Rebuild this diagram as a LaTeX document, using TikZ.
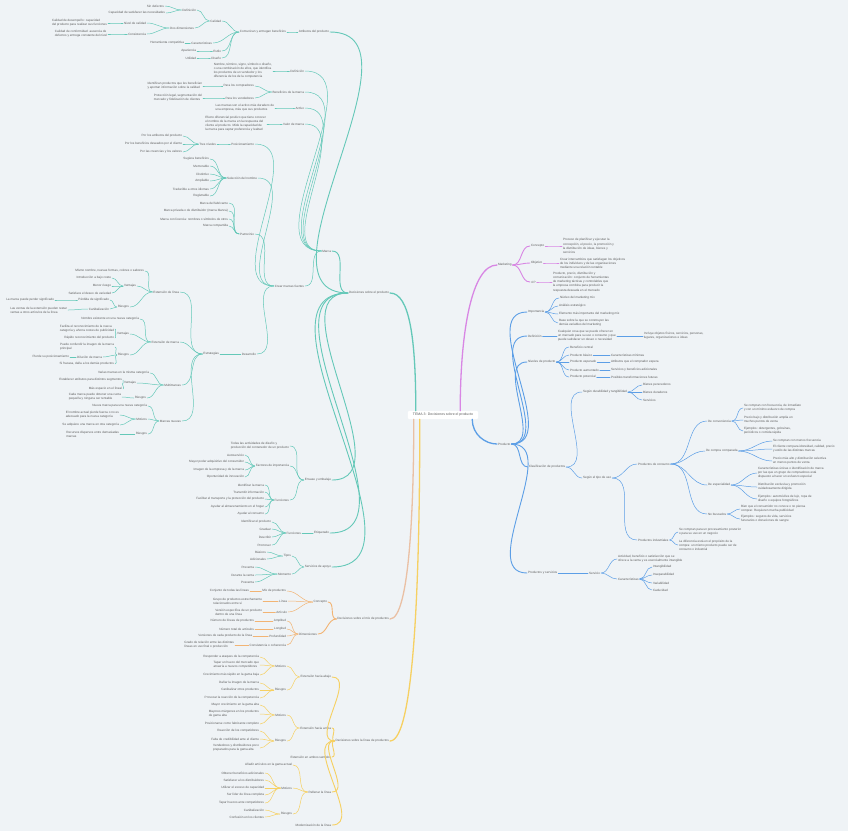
\documentclass[tikz,border=0pt]{standalone}
\usepackage{fontspec}
\setmainfont{Liberation Sans}
\definecolor{bg}{RGB}{239,243,246}
\definecolor{txt}{RGB}{92,92,92}
\definecolor{cteal}{RGB}{100,200,184}
\definecolor{corange}{RGB}{242,180,116}
\definecolor{cpeach}{RGB}{234,192,164}
\definecolor{cyellow}{RGB}{246,208,98}
\definecolor{cpurple}{RGB}{216,134,228}
\definecolor{cblue}{RGB}{92,158,230}
\newcommand\fsz{\fontsize{3.1}{4.1}\selectfont}
\tikzset{
 tx/.style={font=\fsz, text=txt, inner sep=0.8pt},
 L/.style={tx, anchor=east},
 R/.style={tx, anchor=west},
 D/.style={align=left},
 w1/.style={line width=1.3pt, line cap=round},
 w2/.style={line width=0.9pt, line cap=round},
 w3/.style={line width=0.5pt, line cap=round},
}
\begin{document}
\begin{tikzpicture}[x=1pt,y=-1pt]
\fill[bg] (0,0) rectangle (848,831);
\useasboundingbox (0,0) rectangle (848,831);

% ---------------- center
\node[fill=white, rounded corners=1pt, text=txt, font=\fontsize{3.5}{4}\selectfont, inner xsep=5pt, inner ysep=2.5pt] (ctr) at (443,415) {TEMA 3: Decisiones sobre el producto};

% ---------------- level 1
\node[L] (d1) at (390,293) {Decisiones sobre el producto};
\node[L] (d2) at (390,619) {Decisiones sobre el mix de productos};
\node[L] (d3) at (390,741) {Decisiones sobre la línea de productos};
\node[R] (mk) at (497,265) {Marketing};
\node[R] (pr) at (497,444) {Producto};

% ---------------- teal: atributos
\node[L] (atr) at (330,32) {Atributos del producto};
\node[L] (atv) at (287,32) {Comunican y entregan beneficios};
\node[L] (cal) at (222,21) {Calidad};
\node[L] (cdef) at (197,10) {Definición};
\node[L] (cd1) at (165,6) {Sin defectos};
\node[L] (cd2) at (166,13) {Capacidad de satisfacer las necesidades};
\node[L] (cdim) at (195,28) {Dos dimensiones};
\node[L] (cn) at (147,23) {Nivel de calidad};
\node[L,D] (cnd) at (108,23) {Calidad de desempeño: capacidad\\ del producto para realizar sus funciones};
\node[L] (cc) at (147,34) {Consistencia};
\node[L,D] (ccd) at (108,34) {Calidad de conformidad: ausencia de\\ defectos y entrega constante del nivel};
\node[L] (car) at (213,43) {Características};
\node[L] (card) at (185,43) {Herramienta competitiva};
\node[L] (est) at (222,51) {Estilo};
\node[L] (estd) at (197,51) {Apariencia};
\node[L] (dis) at (222,58) {Diseño};
\node[L] (disd) at (197,58) {Utilidad};

% ---------------- teal: marca
\node[L] (ma) at (332,251) {Marca};
\node[L] (mdef) at (305,71) {Definición};
\node[L,D] (mdefd) at (273,71) {Nombre, término, signo, símbolo o diseño,\\ o una combinación de ellos, que identifica\\ los productos de un vendedor y los\\ diferencia de los de la competencia};
\node[L] (mben) at (305,92) {Beneficios de la marca};
\node[L] (mb1) at (255,86) {Para los compradores};
\node[L,D] (mb1d) at (203,86) {Identifican productos que les benefician\\ y aportan información sobre la calidad};
\node[L] (mb2) at (255,98) {Para los vendedores};
\node[L,D] (mb2d) at (203,98) {Protección legal, segmentación del\\ mercado y fidelización de clientes};
\node[L] (mact) at (305,108) {Activo};
\node[L,D] (mactd) at (275,108) {Las marcas son el activo más duradero de\\ una empresa, más que sus productos};
\node[L] (mcap) at (305,124) {Valor de marca};
\node[L,D] (mcapd) at (267,124) {Efecto diferencial positivo que tiene conocer\\ el nombre de la marca en la respuesta del\\ cliente al producto. Mide la capacidad de\\ la marca para captar preferencia y lealtad};
\node[L] (mfue) at (305,286) {Crear marcas fuertes};
\node[L] (mpos) at (255,144) {Posicionamiento};
\node[L] (mtres) at (217,144) {Tres niveles};
\node[L] (mp1) at (183,136) {Por los atributos del producto};
\node[L] (mp2) at (183,144) {Por los beneficios deseados por el cliente};
\node[L] (mp3) at (183,152) {Por las creencias y los valores};
\node[L] (msel) at (258,178) {Selección del nombre};
\node[L] (ms1) at (210,159) {Sugiera beneficios};
\node[L] (ms2) at (210,166) {Memorable};
\node[L] (ms3) at (210,174) {Distintivo};
\node[L] (ms4) at (210,181) {Ampliable};
\node[L] (ms5) at (210,189) {Traducible a otros idiomas};
\node[L] (ms6) at (210,196) {Registrable};
\node[L] (mpat) at (255,234) {Patrocinio};
\node[L] (mt1) at (229,203) {Marca del fabricante};
\node[L] (mt2) at (229,211) {Marca privada o de distribuidor (marca blanca)};
\node[L] (mt3) at (229,219) {Marca con licencia: nombres o símbolos de otros};
\node[L] (mt4) at (229,226) {Marca compartida};
\node[L] (mdes) at (257,354) {Desarrollo};
\node[L] (mest) at (220,354) {Estrategias};
\node[L] (el) at (180,292) {Extensión de línea};
\node[L] (eld) at (145,271) {Mismo nombre, nuevas formas, colores o sabores};
\node[L] (elv) at (137,286) {Ventajas};
\node[L] (elv1) at (112,278) {Introducción a bajo coste};
\node[L] (elv2) at (112,286) {Menor riesgo};
\node[L] (elv3) at (112,293) {Satisface el deseo de variedad};
\node[L] (elr) at (130,307) {Riesgos};
\node[L] (elr1) at (110,300) {Pérdida de significado};
\node[L] (elr1d) at (55,300) {La marca puede perder significado};
\node[L] (elr2) at (110,309) {Canibalización};
\node[L,D] (elr2d) at (68,310) {Las ventas de la extensión pueden restar\\ ventas a otros artículos de la línea};
\node[L] (em) at (180,342) {Extensión de marca};
\node[L] (emd) at (140,319) {Nombre existente en una nueva categoría};
\node[L] (emv) at (130,334) {Ventajas};
\node[L,D] (emv1) at (115,329) {Facilita el reconocimiento de la nueva\\ categoría y ahorra costes de publicidad};
\node[L] (emv2) at (115,338) {Rápido reconocimiento del producto};
\node[L] (emr) at (130,355) {Riesgos};
\node[L,D] (emr1) at (115,347) {Puede confundir la imagen de la marca\\ principal};
\node[L] (emr2) at (103,357) {Dilución de marca};
\node[L] (emr2d) at (70,357) {Pierde su posicionamiento};
\node[L] (emr3) at (115,364) {Si fracasa, daña a los demás productos};
\node[L] (mm) at (182,385) {Multimarcas};
\node[L] (mmd) at (150,373) {Varias marcas en la misma categoría};
\node[L] (mmv) at (137,383) {Ventajas};
\node[L] (mmv1) at (123,380) {Establecer atributos para distintos segmentos};
\node[L] (mmv2) at (123,389) {Más espacio en el lineal};
\node[L] (mmr) at (147,398) {Riesgos};
\node[L,D] (mmrd) at (122,397) {Cada marca puede obtener una cuota\\ pequeña y ninguna ser rentable};
\node[L] (mn) at (182,421) {Marcas nuevas};
\node[L] (mnd) at (148,406) {Nueva marca para una nueva categoría};
\node[L] (mnm) at (148,419) {Motivos};
\node[L,D] (mnm1) at (120,415) {El nombre actual pierde fuerza o no es\\ adecuado para la nueva categoría};
\node[L] (mnm2) at (120,425) {Se adquiere una marca en otra categoría};
\node[L] (mnr) at (148,434) {Riesgos};
\node[L,D] (mnrd) at (120,434) {Recursos dispersos entre demasiadas\\ marcas};

% ---------------- teal: envase, etiquetado, servicios
\node[L] (env) at (332,480) {Envase y embalaje};
\node[L,D] (envd) at (290,446) {Todas las actividades de diseño y\\ producción del contenedor de un producto};
\node[L] (envf) at (290,466) {Factores de importancia};
\node[L] (ef1) at (245,455) {Autoservicio};
\node[L] (ef2) at (245,462) {Mayor poder adquisitivo del consumidor};
\node[L] (ef3) at (245,470) {Imagen de la empresa y de la marca};
\node[L] (ef4) at (245,477) {Oportunidad de innovación};
\node[L] (envfu) at (290,500) {Funciones};
\node[L] (eu1) at (265,485) {Identificar la marca};
\node[L] (eu2) at (265,492) {Transmitir información};
\node[L] (eu3) at (265,499) {Facilitar el transporte y la protección del producto};
\node[L] (eu4) at (265,507) {Ayudar al almacenamiento en el hogar};
\node[L] (eu5) at (265,514) {Ayudar al consumo};
\node[L] (eti) at (330,533) {Etiquetado};
\node[L] (etf) at (302,533) {Funciones};
\node[L] (et1) at (272,522) {Identificar el producto};
\node[L] (et2) at (272,529) {Graduar};
\node[L] (et3) at (272,537) {Describir};
\node[L] (et4) at (272,545) {Promover};
\node[L] (sa) at (332,567) {Servicios de apoyo};
\node[L] (sat) at (292,556) {Tipos};
\node[L] (sat1) at (267,552) {Básicos};
\node[L] (sat2) at (267,559) {Adicionales};
\node[L] (sam) at (292,574) {Momento};
\node[L] (sam1) at (255,567) {Preventa};
\node[L] (sam2) at (255,575) {Durante la venta};
\node[L] (sam3) at (255,582) {Posventa};

% ---------------- orange
\node[L] (oc) at (328,602) {Concepto};
\node[L] (oc1) at (287,591) {Mix de productos};
\node[L] (oc1d) at (250,591) {Conjunto de todas las líneas};
\node[L] (oc2) at (288,601) {Línea};
\node[L,D] (oc2d) at (263,601) {Grupo de productos estrechamente\\ relacionados entre sí};
\node[L] (oc3) at (288,612) {Artículo};
\node[L,D] (oc3d) at (263,612) {Versión específica de un producto\\ dentro de una línea};
\node[L] (od) at (318,634) {Dimensiones};
\node[L] (od1) at (287,621) {Amplitud};
\node[L] (od1d) at (255,621) {Número de líneas de productos};
\node[L] (od2) at (287,629) {Longitud};
\node[L] (od2d) at (255,629) {Número total de artículos};
\node[L] (od3) at (287,636) {Profundidad};
\node[L] (od3d) at (253,636) {Versiones de cada producto de la línea};
\node[L] (od4) at (287,645) {Consistencia o coherencia};
\node[L,D] (od4d) at (235,645) {Grado de relación entre las distintas\\ líneas en uso final o producción};

% ---------------- yellow
\node[L] (y1) at (332,677) {Extensión hacia abajo};
\node[L] (y1m) at (287,666) {Motivos};
\node[L] (y1m1) at (260,657) {Responder a ataques de la competencia};
\node[L,D] (y1m2) at (260,665) {Tapar un hueco del mercado que\\ atraería a nuevos competidores};
\node[L] (y1m3) at (260,675) {Crecimiento más rápido en la gama baja};
\node[L] (y1r) at (287,690) {Riesgos};
\node[L] (y1r1) at (260,683) {Dañar la imagen de la marca};
\node[L] (y1r2) at (260,690) {Canibalizar otros productos};
\node[L] (y1r3) at (260,698) {Provocar la reacción de la competencia};
\node[L] (y2) at (332,728) {Extensión hacia arriba};
\node[L] (y2m) at (287,715) {Motivos};
\node[L] (y2m1) at (260,705) {Mayor crecimiento en la gama alta};
\node[L,D] (y2m2) at (260,714) {Mayores márgenes en los productos\\ de gama alta};
\node[L] (y2m3) at (260,724) {Posicionarse como fabricante completo};
\node[L] (y2r) at (287,741) {Riesgos};
\node[L] (y2r1) at (260,731) {Reacción de los competidores};
\node[L] (y2r2) at (260,739) {Falta de credibilidad ante el cliente};
\node[L,D] (y2r3) at (260,748) {Vendedores y distribuidores poco\\ preparados para la gama alta};
\node[L] (y3) at (332,757) {Extensión en ambos sentidos};
\node[L] (y4) at (332,792) {Rellenar la línea};
\node[L] (y4d) at (293,765) {Añadir artículos en la gama actual};
\node[L] (y4m) at (293,788) {Motivos};
\node[L] (y4m1) at (265,773) {Obtener beneficios adicionales};
\node[L] (y4m2) at (265,780) {Satisfacer a los distribuidores};
\node[L] (y4m3) at (265,788) {Utilizar el exceso de capacidad};
\node[L] (y4m4) at (265,795) {Ser líder de línea completa};
\node[L] (y4m5) at (265,803) {Tapar huecos ante competidores};
\node[L] (y4r) at (293,814) {Riesgos};
\node[L] (y4r1) at (265,810) {Canibalización};
\node[L] (y4r2) at (265,817) {Confusión en los clientes};
\node[L] (y5) at (332,825) {Modernización de la línea};

% ---------------- purple
\node[R] (mk1) at (530,246) {Concepto};
\node[R,D] (mk1d) at (562,246) {Proceso de planificar y ejecutar la\\ concepción, el precio, la promoción y\\ la distribución de ideas, bienes y\\ servicios};
\node[R] (mk2) at (530,263) {Objetivo};
\node[R,D] (mk2d) at (559,263) {Crear intercambios que satisfagan los objetivos\\ de los individuos y de las organizaciones\\ mediante una relación rentable};
\node[R] (mk3) at (530,282) {4 P};
\node[R,D] (mk3d) at (552,282) {Producto, precio, distribución y\\ comunicación: conjunto de herramientas\\ de marketing tácticas y controlables que\\ la empresa combina para producir la\\ respuesta deseada en el mercado};

% ---------------- blue
\node[R] (pim) at (527,312) {Importancia};
\node[R] (pi1) at (559,298) {Núcleo del marketing mix};
\node[R] (pi2) at (558,306) {Análisis estratégico};
\node[R] (pi3) at (558,314) {Elemento más importante del marketing mix};
\node[R,D] (pi4) at (558,323) {Base sobre la que se construyen las\\ demás variables del marketing};
\node[R] (pd) at (527,336) {Definición};
\node[R,D] (pdd) at (557,336) {Cualquier cosa que se puede ofrecer en\\ un mercado para su uso o consumo y que\\ puede satisfacer un deseo o necesidad};
\node[R,D] (pdd2) at (643,336) {Incluye objetos físicos, servicios, personas,\\ lugares, organizaciones e ideas};
\node[R] (pn) at (527,362) {Niveles de producto};
\node[R] (pn1) at (569,347) {Beneficio central};
\node[R] (pn2) at (569,355) {Producto básico};
\node[R] (pn2d) at (610,355) {Características mínimas};
\node[R] (pn3) at (569,362) {Producto esperado};
\node[R] (pn3d) at (610,362) {Atributos que el comprador espera};
\node[R] (pn4) at (569,370) {Producto aumentado};
\node[R] (pn4d) at (610,370) {Servicios y beneficios adicionales};
\node[R] (pn5) at (569,377) {Producto potencial};
\node[R] (pn5d) at (610,377) {Posibles transformaciones futuras};
\node[R] (pc) at (528,467) {Clasificación de productos};
\node[R] (pc1) at (582,392) {Según durabilidad y tangibilidad};
\node[R] (pc11) at (642,385) {Bienes perecederos};
\node[R] (pc12) at (642,392) {Bienes duraderos};
\node[R] (pc13) at (642,400) {Servicios};
\node[R] (pc2) at (582,478) {Según el tipo de uso};
\node[R] (pcc) at (637,464) {Productos de consumo};
\node[R] (pcc1) at (707,421) {De conveniencia};
\node[R,D] (pcc1a) at (743,408) {Se compran con frecuencia, de inmediato\\ y con un mínimo esfuerzo de compra};
\node[R,D] (pcc1b) at (743,420) {Precio bajo y distribución amplia en\\ muchos puntos de venta};
\node[R,D] (pcc1c) at (743,431) {Ejemplos: detergentes, golosinas,\\ periódicos o comida rápida};
\node[R] (pcc2) at (705,451) {De compra comparada};
\node[R] (pcc2a) at (772,441) {Se compran con menos frecuencia};
\node[R,D] (pcc2b) at (772,449) {El cliente compara idoneidad, calidad, precio\\ y estilo de las distintas marcas};
\node[R,D] (pcc2c) at (772,461) {Precio más alto y distribución selectiva\\ en menos puntos de venta};
\node[R] (pcc3) at (707,485) {De especialidad};
\node[R,D] (pcc3a) at (757,473) {Características únicas o identificación de marca\\ por las que un grupo de compradores está\\ dispuesto a hacer un esfuerzo especial};
\node[R,D] (pcc3b) at (757,487) {Distribución exclusiva y promoción\\ cuidadosamente dirigida};
\node[R,D] (pcc3c) at (757,499) {Ejemplos: automóviles de lujo, ropa de\\ diseño o equipos fotográficos};
\node[R] (pcc4) at (707,514) {No buscados};
\node[R,D] (pcc4a) at (740,509) {Bien que el consumidor no conoce o no piensa\\ comprar. Requieren mucha publicidad};
\node[R,D] (pcc4b) at (740,519) {Ejemplos: seguros de vida, servicios\\ funerarios o donaciones de sangre};
\node[R] (pci) at (637,540) {Productos industriales};
\node[R,D] (pci1) at (678,532) {Se compran para un procesamiento posterior\\ o para su uso en un negocio};
\node[R,D] (pci2) at (678,545) {La diferencia está en el propósito de la\\ compra: un mismo producto puede ser de\\ consumo o industrial};
\node[R] (ps) at (527,573) {Productos y servicios};
\node[R] (pss) at (588,573) {Servicio};
\node[R,D] (pssd) at (617,559) {Actividad, beneficio o satisfacción que se\\ ofrece a la venta y es esencialmente intangible};
\node[R] (psc) at (617,579) {Características};
\node[R] (psc1) at (652,567) {Intangibilidad};
\node[R] (psc2) at (652,575) {Inseparabilidad};
\node[R] (psc3) at (652,583) {Variabilidad};
\node[R] (psc4) at (652,590) {Caducidad};

% ================= connectors
% center
\draw[cteal,w1] ([xshift=8pt]ctr.north west) .. controls +(0,-70) and +(20,0) .. (d1.east);
\draw[cpeach,w1] ([xshift=6pt]ctr.south west) .. controls +(0,80) and +(20,0) .. (d2.east);
\draw[cyellow,w1] ([xshift=12pt]ctr.south west) .. controls +(0,150) and +(25,0) .. (d3.east);
\draw[cpurple,w1] ([xshift=-18pt]ctr.north east) .. controls +(0,-80) and +(-25,0) .. (mk.west);
\draw[cblue,w1] ([xshift=-6pt]ctr.south east) .. controls +(0,15) and +(-12,0) .. (pr.west);

% left, level 2
\foreach \p/\c in {d1/atr,d1/ma,d1/env,d1/eti,d1/sa}
  \draw[cteal,w2] (\p.west) to[out=180,in=0] (\c.east);
\foreach \p/\c in {d2/oc,d2/od}
  \draw[corange,w2] (\p.west) to[out=180,in=0] (\c.east);
\foreach \p/\c in {d3/y1,d3/y2,d3/y3,d3/y4,d3/y5}
  \draw[cyellow,w2] (\p.west) to[out=180,in=0] (\c.east);
% left, deeper teal
\foreach \p/\c in {atr/atv,atv/cal,atv/car,atv/est,atv/dis,cal/cdef,cal/cdim,cdef/cd1,cdef/cd2,cdim/cn,cdim/cc,cn/cnd,cc/ccd,car/card,est/estd,dis/disd,
 ma/mdef,ma/mben,ma/mact,ma/mcap,ma/mfue,mdef/mdefd,mben/mb1,mben/mb2,mb1/mb1d,mb2/mb2d,mact/mactd,mcap/mcapd,
 mfue/mpos,mfue/msel,mfue/mpat,mfue/mdes,mpos/mtres,mtres/mp1,mtres/mp2,mtres/mp3,
 msel/ms1,msel/ms2,msel/ms3,msel/ms4,msel/ms5,msel/ms6,mpat/mt1,mpat/mt2,mpat/mt3,mpat/mt4,
 mdes/mest,mest/el,mest/em,mest/mm,mest/mn,
 el/eld,el/elv,el/elr,elv/elv1,elv/elv2,elv/elv3,elr/elr1,elr/elr2,elr1/elr1d,elr2/elr2d,
 em/emd,em/emv,em/emr,emv/emv1,emv/emv2,emr/emr1,emr/emr2,emr/emr3,emr2/emr2d,
 mm/mmd,mm/mmv,mm/mmr,mmv/mmv1,mmv/mmv2,mmr/mmrd,
 mn/mnd,mn/mnm,mn/mnr,mnm/mnm1,mnm/mnm2,mnr/mnrd,
 env/envd,env/envf,env/envfu,envf/ef1,envf/ef2,envf/ef3,envf/ef4,
 envfu/eu1,envfu/eu2,envfu/eu3,envfu/eu4,envfu/eu5,
 eti/etf,etf/et1,etf/et2,etf/et3,etf/et4,
 sa/sat,sa/sam,sat/sat1,sat/sat2,sam/sam1,sam/sam2,sam/sam3}
  \draw[cteal,w3] (\p.west) to[out=180,in=0] (\c.east);
% orange deeper
\foreach \p/\c in {oc/oc1,oc/oc2,oc/oc3,oc1/oc1d,oc2/oc2d,oc3/oc3d,od/od1,od/od2,od/od3,od/od4,od1/od1d,od2/od2d,od3/od3d,od4/od4d}
  \draw[corange,w3] (\p.west) to[out=180,in=0] (\c.east);
% yellow deeper
\foreach \p/\c in {y1/y1m,y1/y1r,y1m/y1m1,y1m/y1m2,y1m/y1m3,y1r/y1r1,y1r/y1r2,y1r/y1r3,
 y2/y2m,y2/y2r,y2m/y2m1,y2m/y2m2,y2m/y2m3,y2r/y2r1,y2r/y2r2,y2r/y2r3,
 y4/y4d,y4/y4m,y4/y4r,y4m/y4m1,y4m/y4m2,y4m/y4m3,y4m/y4m4,y4m/y4m5,y4r/y4r1,y4r/y4r2}
  \draw[cyellow,w3] (\p.west) to[out=180,in=0] (\c.east);
% purple
\foreach \p/\c in {mk/mk1,mk/mk2,mk/mk3}
  \draw[cpurple,w2] (\p.east) to[out=0,in=180] (\c.west);
\foreach \p/\c in {mk1/mk1d,mk2/mk2d,mk3/mk3d}
  \draw[cpurple,w3] (\p.east) to[out=0,in=180] (\c.west);
% blue
\foreach \p/\c in {pr/pim,pr/pd,pr/pn,pr/pc,pr/ps}
  \draw[cblue,w2] (\p.east) to[out=0,in=180] (\c.west);
\foreach \p/\c in {pim/pi1,pim/pi2,pim/pi3,pim/pi4,pd/pdd,pdd/pdd2,
 pn/pn1,pn/pn2,pn/pn3,pn/pn4,pn/pn5,pn2/pn2d,pn3/pn3d,pn4/pn4d,pn5/pn5d,
 pc/pc1,pc/pc2,pc1/pc11,pc1/pc12,pc1/pc13,pc2/pcc,pc2/pci,
 pcc/pcc1,pcc/pcc2,pcc/pcc3,pcc/pcc4,pcc1/pcc1a,pcc1/pcc1b,pcc1/pcc1c,
 pcc2/pcc2a,pcc2/pcc2b,pcc2/pcc2c,pcc3/pcc3a,pcc3/pcc3b,pcc3/pcc3c,pcc4/pcc4a,pcc4/pcc4b,
 pci/pci1,pci/pci2,ps/pss,pss/pssd,pss/psc,psc/psc1,psc/psc2,psc/psc3,psc/psc4}
  \draw[cblue,w3] (\p.east) to[out=0,in=180] (\c.west);
\end{tikzpicture}
\end{document}
